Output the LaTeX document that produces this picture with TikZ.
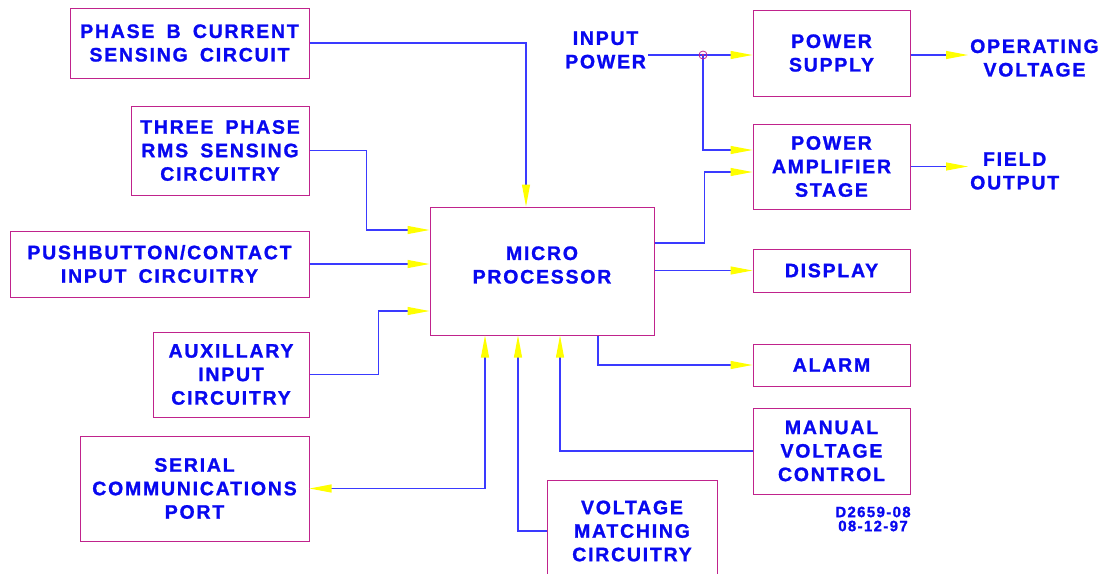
\documentclass[tikz,border=0pt]{standalone}
\usepackage{fontspec}
\setmainfont{Liberation Sans}[LetterSpace=9,WordSpace=1.7,BoldFeatures={FakeBold=1.2}]
\usetikzlibrary{arrows.meta}
\definecolor{boxpink}{HTML}{C0238C}
\definecolor{lineblue}{HTML}{3A3AFF}
\definecolor{textblue}{HTML}{0808F0}
\definecolor{tipyellow}{HTML}{FFFF00}
\tikzset{
  block/.style={
    draw=boxpink,
    line width=1pt,
    text=textblue,
    font=\bfseries\fontsize{19.5}{23.5}\selectfont,
    align=center,
    inner sep=0pt
  },
  tag/.style={
    text=textblue,
    font=\bfseries\fontsize{19.5}{23.5}\selectfont,
    align=center,
    inner sep=2pt
  },
  wire/.style={
    draw=lineblue,
    line width=1.1pt
  },
  conn/.style={
    wire,
    -{Triangle[length=22pt,width=8pt,color=tipyellow]}
  },
  both/.style={
    wire,
    {Triangle[length=22pt,width=8pt,color=tipyellow]}-{Triangle[length=22pt,width=8pt,color=tipyellow]}
  }
}

\begin{document}
\begin{tikzpicture}[x=1pt,y=-1pt]
  \useasboundingbox (0,0) rectangle (1105,573);

  % Input blocks on the left
  \node[block, minimum width=239pt, minimum height=70pt] (phaseb) at (189.5,43)
    {PHASE B CURRENT\\SENSING CIRCUIT};
  \node[block, minimum width=178pt, minimum height=89pt] (threeph) at (220,150.5)
    {THREE PHASE\\RMS SENSING\\CIRCUITRY};
  \node[block, minimum width=299pt, minimum height=66pt] (push) at (159.5,264)
    {PUSHBUTTON/CONTACT\\INPUT CIRCUITRY};
  \node[block, minimum width=156pt, minimum height=85pt] (aux) at (231,374.5)
    {AUXILLARY\\INPUT\\CIRCUITRY};
  \node[block, minimum width=229pt, minimum height=105pt] (serial) at (194.5,488.5)
    {SERIAL\\COMMUNICATIONS\\PORT};

  % Processor and bottom block
  \node[block, minimum width=224pt, minimum height=128pt] (micro) at (542,271) {};
  \node[tag] (microtxt) at (542,265) {MICRO\\PROCESSOR};
  \node[block, minimum width=170pt, minimum height=102pt] (volt) at (632,531)
    {VOLTAGE\\MATCHING\\CIRCUITRY};

  % Output blocks on the right
  \node[block, minimum width=157pt, minimum height=86pt] (psupply) at (831.5,53)
    {POWER\\SUPPLY};
  \node[block, minimum width=157pt, minimum height=85pt] (pamp) at (831.5,166.5)
    {POWER\\AMPLIFIER\\STAGE};
  \node[block, minimum width=157pt, minimum height=43pt] (display) at (831.5,270.5)
    {DISPLAY};
  \node[block, minimum width=157pt, minimum height=42pt] (alarm) at (831.5,365)
    {ALARM};
  \node[block, minimum width=157pt, minimum height=86pt] (manual) at (831.5,451)
    {MANUAL\\VOLTAGE\\CONTROL};

  % Free labels
  \node[tag, anchor=west] (inpower) at (563,50) {INPUT\\POWER};
  \node[tag, anchor=west] (opvolt) at (968,58) {OPERATING\\VOLTAGE};
  \node[tag, anchor=west] (field) at (968,171) {FIELD\\OUTPUT};
  \node[text=textblue, font=\bfseries\fontsize{15}{14}\selectfont, align=center]
    (drawno) at (873,519) {D2659-08\\08-12-97};

  % Inputs to the processor
  \draw[conn] (phaseb.east) -| ([xshift=-16pt]micro.north);
  \draw[conn] (threeph.east) -- ++(57,0) |- ([yshift=41pt]micro.west);
  \draw[conn] (push.east) -- (push.east -| micro.west);
  \draw[conn] (aux.east) -- ++(69,0) |- ([yshift=-40pt]micro.west);
  \draw[both] ([xshift=-57pt]micro.south) |- (serial.east);
  \draw[conn] (volt.west) -| ([xshift=-24pt]micro.south);
  \draw[conn] (manual.west) -| ([xshift=18pt]micro.south);

  % Processor outputs
  \draw[conn] ([yshift=28pt]micro.east) -- ++(50,0) |- ([yshift=-5.5pt]pamp.west);
  \draw[conn] (micro.east |- display.west) -- (display.west);
  \draw[conn] ([xshift=56pt]micro.south) |- (alarm.west);

  % Input power distribution
  \coordinate (junc) at (703,55);
  \draw[wire] (inpower.east |- junc) -- (junc);
  \draw[conn] (junc) -- (psupply.west |- junc);
  \draw[conn] (junc) |- ([yshift=16.5pt]pamp.west);
  \draw[boxpink, line width=0.8pt] (junc) circle (4pt);
  \fill[boxpink] (junc) circle (1.3pt);

  % Outputs
  \draw[conn] (psupply.east |- junc) -- (opvolt.west |- junc);
  \draw[conn] (pamp.east) -- (field.west |- pamp.east);
\end{tikzpicture}
\end{document}
